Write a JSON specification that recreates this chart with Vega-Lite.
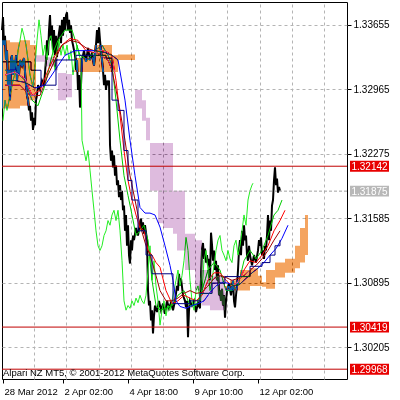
{
"$schema":"https://vega.github.io/schema/vega-lite/v6.json",
"width":345,"height":377,"autosize":{"type":"none"},
"padding":{"left":2,"top":2,"right":53,"bottom":21},
"background":"white",
"config":{"view":{"stroke":"#000","strokeWidth":1},
"axis":{"labelFont":"Liberation Sans","labelFontSize":10,"labelColor":"#000","tickColor":"#000","gridColor":"#B4B4B4","gridDash":[3,3],"domain":false},
"text":{"font":"Liberation Sans","fontSize":10}},
"resolve":{"axis":{"x":"independent"},"scale":{"color":"independent"}},
"datasets":{
"price":[{"x":2,"p":1.336},{"x":3,"p":1.3374},{"x":4,"p":1.3344},{"x":5,"p":1.3354},{"x":6,"p":1.3328},{"x":7,"p":1.3338},{"x":8,"p":1.3301},{"x":9,"p":1.3317},{"x":10,"p":1.3285},{"x":11,"p":1.3328},{"x":12,"p":1.3333},{"x":13,"p":1.3312},{"x":14,"p":1.3328},{"x":15,"p":1.3317},{"x":16,"p":1.3333},{"x":17,"p":1.3306},{"x":18,"p":1.3322},{"x":19,"p":1.3312},{"x":20,"p":1.3328},{"x":22,"p":1.3322},{"x":24,"p":1.333},{"x":26,"p":1.3301},{"x":27,"p":1.329},{"x":28,"p":1.3285},{"x":29,"p":1.3274},{"x":30,"p":1.3279},{"x":31,"p":1.3263},{"x":32,"p":1.3272},{"x":33,"p":1.3253},{"x":34,"p":1.3266},{"x":35,"p":1.3258},{"x":36,"p":1.3285},{"x":37,"p":1.329},{"x":38,"p":1.3301},{"x":40,"p":1.3296},{"x":42,"p":1.3306},{"x":44,"p":1.3301},{"x":46,"p":1.3328},{"x":47,"p":1.3349},{"x":48,"p":1.3333},{"x":49,"p":1.336},{"x":50,"p":1.3376},{"x":51,"p":1.3349},{"x":52,"p":1.3365},{"x":53,"p":1.3338},{"x":54,"p":1.336},{"x":55,"p":1.3333},{"x":56,"p":1.3354},{"x":57,"p":1.3331},{"x":58,"p":1.3349},{"x":60,"p":1.3365},{"x":61,"p":1.3346},{"x":62,"p":1.3371},{"x":63,"p":1.3354},{"x":64,"p":1.3374},{"x":65,"p":1.336},{"x":66,"p":1.3376},{"x":67,"p":1.3379},{"x":68,"p":1.336},{"x":69,"p":1.3371},{"x":70,"p":1.3357},{"x":71,"p":1.3365},{"x":72,"p":1.3349},{"x":73,"p":1.3344},{"x":75,"p":1.3333},{"x":76,"p":1.3317},{"x":77,"p":1.3328},{"x":78,"p":1.3296},{"x":79,"p":1.3312},{"x":80,"p":1.3277},{"x":81,"p":1.3301},{"x":82,"p":1.3328},{"x":84,"p":1.3338},{"x":86,"p":1.3326},{"x":88,"p":1.3341},{"x":90,"p":1.3328},{"x":92,"p":1.3336},{"x":94,"p":1.3322},{"x":96,"p":1.3344},{"x":97,"p":1.336},{"x":98,"p":1.3346},{"x":99,"p":1.3363},{"x":100,"p":1.3349},{"x":101,"p":1.3338},{"x":102,"p":1.3328},{"x":103,"p":1.3317},{"x":104,"p":1.3301},{"x":105,"p":1.3312},{"x":106,"p":1.3296},{"x":107,"p":1.3306},{"x":108,"p":1.3301},{"x":109,"p":1.3306},{"x":110,"p":1.3237},{"x":111,"p":1.322},{"x":112,"p":1.3231},{"x":113,"p":1.3213},{"x":114,"p":1.3226},{"x":115,"p":1.3204},{"x":116,"p":1.3215},{"x":117,"p":1.3194},{"x":118,"p":1.3199},{"x":119,"p":1.3181},{"x":120,"p":1.3194},{"x":121,"p":1.3178},{"x":122,"p":1.3188},{"x":123,"p":1.3167},{"x":124,"p":1.3172},{"x":125,"p":1.3145},{"x":126,"p":1.3162},{"x":127,"p":1.3129},{"x":128,"p":1.3151},{"x":129,"p":1.3119},{"x":130,"p":1.311},{"x":131,"p":1.3135},{"x":132,"p":1.3124},{"x":133,"p":1.314},{"x":134,"p":1.3135},{"x":136,"p":1.3148},{"x":138,"p":1.314},{"x":140,"p":1.3154},{"x":141,"p":1.3158},{"x":142,"p":1.3145},{"x":143,"p":1.3154},{"x":144,"p":1.3142},{"x":145,"p":1.3151},{"x":146,"p":1.3143},{"x":147,"p":1.3135},{"x":148,"p":1.3081},{"x":149,"p":1.3065},{"x":150,"p":1.307},{"x":151,"p":1.3049},{"x":152,"p":1.306},{"x":153,"p":1.3035},{"x":154,"p":1.3054},{"x":155,"p":1.3065},{"x":157,"p":1.3058},{"x":159,"p":1.307},{"x":161,"p":1.306},{"x":163,"p":1.3067},{"x":165,"p":1.3056},{"x":167,"p":1.307},{"x":169,"p":1.3062},{"x":171,"p":1.3068},{"x":173,"p":1.306},{"x":175,"p":1.307},{"x":177,"p":1.3086},{"x":178,"p":1.3081},{"x":179,"p":1.3099},{"x":180,"p":1.3086},{"x":181,"p":1.3094},{"x":183,"p":1.3076},{"x":185,"p":1.307},{"x":186,"p":1.3063},{"x":187,"p":1.307},{"x":188,"p":1.3031},{"x":189,"p":1.306},{"x":190,"p":1.307},{"x":192,"p":1.3065},{"x":194,"p":1.307},{"x":196,"p":1.3058},{"x":198,"p":1.3068},{"x":200,"p":1.3062},{"x":202,"p":1.3124},{"x":203,"p":1.3132},{"x":204,"p":1.3115},{"x":205,"p":1.3126},{"x":206,"p":1.3111},{"x":207,"p":1.3119},{"x":208,"p":1.3108},{"x":209,"p":1.3115},{"x":210,"p":1.3092},{"x":211,"p":1.3143},{"x":212,"p":1.313},{"x":213,"p":1.3113},{"x":214,"p":1.3124},{"x":215,"p":1.3103},{"x":216,"p":1.3113},{"x":217,"p":1.3092},{"x":218,"p":1.3108},{"x":219,"p":1.3076},{"x":220,"p":1.3081},{"x":221,"p":1.307},{"x":222,"p":1.3083},{"x":223,"p":1.3065},{"x":224,"p":1.3076},{"x":225,"p":1.3052},{"x":226,"p":1.307},{"x":227,"p":1.3081},{"x":229,"p":1.3089},{"x":231,"p":1.3076},{"x":233,"p":1.3092},{"x":234,"p":1.307},{"x":235,"p":1.3063},{"x":236,"p":1.3076},{"x":237,"p":1.3086},{"x":238,"p":1.3103},{"x":239,"p":1.3124},{"x":240,"p":1.3135},{"x":241,"p":1.3119},{"x":242,"p":1.3145},{"x":243,"p":1.3129},{"x":244,"p":1.3151},{"x":245,"p":1.3135},{"x":246,"p":1.314},{"x":247,"p":1.3119},{"x":248,"p":1.3113},{"x":249,"p":1.3129},{"x":250,"p":1.3119},{"x":252,"p":1.3108},{"x":254,"p":1.3119},{"x":256,"p":1.3111},{"x":258,"p":1.3124},{"x":259,"p":1.3135},{"x":260,"p":1.3129},{"x":261,"p":1.3138},{"x":262,"p":1.3119},{"x":263,"p":1.3124},{"x":264,"p":1.3115},{"x":265,"p":1.3129},{"x":266,"p":1.3124},{"x":267,"p":1.314},{"x":268,"p":1.3162},{"x":269,"p":1.3135},{"x":270,"p":1.3156},{"x":271,"p":1.3145},{"x":272,"p":1.3172},{"x":273,"p":1.3178},{"x":274,"p":1.3199},{"x":275,"p":1.3213},{"x":276,"p":1.3194},{"x":277,"p":1.3201},{"x":278,"p":1.3186},{"x":279,"p":1.3192},{"x":280,"p":1.3188}],
"chikou":[{"x":3,"p":1.3263},{"x":5,"p":1.3285},{"x":7,"p":1.3274},{"x":10,"p":1.329},{"x":13,"p":1.3306},{"x":16,"p":1.3317},{"x":18,"p":1.3338},{"x":20,"p":1.3349},{"x":22,"p":1.3362},{"x":24,"p":1.3354},{"x":26,"p":1.3344},{"x":28,"p":1.3328},{"x":30,"p":1.3312},{"x":33,"p":1.3299},{"x":35,"p":1.3322},{"x":37,"p":1.3349},{"x":39,"p":1.3371},{"x":41,"p":1.3354},{"x":43,"p":1.3333},{"x":45,"p":1.3344},{"x":47,"p":1.3328},{"x":49,"p":1.3349},{"x":51,"p":1.3354},{"x":53,"p":1.3333},{"x":55,"p":1.3317},{"x":57,"p":1.3338},{"x":59,"p":1.3349},{"x":61,"p":1.3333},{"x":63,"p":1.3344},{"x":65,"p":1.3333},{"x":67,"p":1.3344},{"x":69,"p":1.3328},{"x":71,"p":1.3338},{"x":73,"p":1.3312},{"x":75,"p":1.3328},{"x":77,"p":1.3344},{"x":79,"p":1.3333},{"x":81,"p":1.3328},{"x":82,"p":1.3242},{"x":84,"p":1.3231},{"x":86,"p":1.322},{"x":88,"p":1.3231},{"x":90,"p":1.321},{"x":92,"p":1.3188},{"x":94,"p":1.3167},{"x":96,"p":1.3145},{"x":98,"p":1.3129},{"x":100,"p":1.3124},{"x":102,"p":1.3129},{"x":104,"p":1.314},{"x":106,"p":1.3145},{"x":108,"p":1.3156},{"x":110,"p":1.3151},{"x":112,"p":1.3162},{"x":114,"p":1.3167},{"x":116,"p":1.3156},{"x":118,"p":1.3167},{"x":120,"p":1.3145},{"x":122,"p":1.3113},{"x":124,"p":1.307},{"x":126,"p":1.306},{"x":128,"p":1.3065},{"x":130,"p":1.3062},{"x":132,"p":1.307},{"x":134,"p":1.3065},{"x":136,"p":1.3073},{"x":138,"p":1.3068},{"x":140,"p":1.3076},{"x":142,"p":1.307},{"x":144,"p":1.3067},{"x":146,"p":1.3076},{"x":148,"p":1.3103},{"x":150,"p":1.3129},{"x":152,"p":1.3092},{"x":154,"p":1.3113},{"x":156,"p":1.3086},{"x":158,"p":1.307},{"x":160,"p":1.3044},{"x":162,"p":1.306},{"x":164,"p":1.307},{"x":166,"p":1.3054},{"x":168,"p":1.3065},{"x":170,"p":1.306},{"x":172,"p":1.307},{"x":174,"p":1.3081},{"x":176,"p":1.3092},{"x":178,"p":1.3103},{"x":180,"p":1.3086},{"x":182,"p":1.3097},{"x":184,"p":1.3113},{"x":186,"p":1.3138},{"x":188,"p":1.3124},{"x":190,"p":1.3092},{"x":192,"p":1.307},{"x":194,"p":1.306},{"x":196,"p":1.3081},{"x":198,"p":1.3086},{"x":200,"p":1.307},{"x":202,"p":1.3081},{"x":204,"p":1.3113},{"x":206,"p":1.3124},{"x":208,"p":1.3103},{"x":210,"p":1.3081},{"x":212,"p":1.3092},{"x":214,"p":1.3108},{"x":216,"p":1.3124},{"x":218,"p":1.3135},{"x":220,"p":1.314},{"x":222,"p":1.3124},{"x":224,"p":1.3119},{"x":226,"p":1.3113},{"x":228,"p":1.3124},{"x":230,"p":1.3115},{"x":232,"p":1.3111},{"x":234,"p":1.3129},{"x":236,"p":1.3135},{"x":238,"p":1.3119},{"x":240,"p":1.3129},{"x":242,"p":1.3145},{"x":244,"p":1.3162},{"x":246,"p":1.3151},{"x":248,"p":1.3178},{"x":250,"p":1.3188},{"x":252,"p":1.3194},{"x":253,"p":1.3196}],
"ma":[
{"s":"lips","x":5,"p":1.3317},{"s":"lips","x":15,"p":1.3317},{"s":"lips","x":25,"p":1.3306},{"s":"lips","x":32,"p":1.3285},{"s":"lips","x":38,"p":1.3279},{"s":"lips","x":45,"p":1.3301},{"s":"lips","x":52,"p":1.3333},{"s":"lips","x":58,"p":1.3349},{"s":"lips","x":65,"p":1.336},{"s":"lips","x":72,"p":1.336},{"s":"lips","x":80,"p":1.3333},{"s":"lips","x":88,"p":1.3328},{"s":"lips","x":95,"p":1.3338},{"s":"lips","x":102,"p":1.3344},{"s":"lips","x":108,"p":1.3333},{"s":"lips","x":112,"p":1.3322},{"s":"lips","x":116,"p":1.3285},{"s":"lips","x":120,"p":1.3242},{"s":"lips","x":124,"p":1.3204},{"s":"lips","x":128,"p":1.3183},{"s":"lips","x":132,"p":1.3162},{"s":"lips","x":136,"p":1.314},{"s":"lips","x":140,"p":1.3145},{"s":"lips","x":144,"p":1.3151},{"s":"lips","x":148,"p":1.3135},{"s":"lips","x":152,"p":1.3092},{"s":"lips","x":156,"p":1.3065},{"s":"lips","x":160,"p":1.306},{"s":"lips","x":166,"p":1.3062},{"s":"lips","x":172,"p":1.3065},{"s":"lips","x":178,"p":1.3076},{"s":"lips","x":184,"p":1.3081},{"s":"lips","x":190,"p":1.3065},{"s":"lips","x":196,"p":1.3065},{"s":"lips","x":202,"p":1.3081},{"s":"lips","x":208,"p":1.3103},{"s":"lips","x":214,"p":1.3111},{"s":"lips","x":220,"p":1.3103},{"s":"lips","x":226,"p":1.3081},{"s":"lips","x":232,"p":1.3081},{"s":"lips","x":238,"p":1.3086},{"s":"lips","x":244,"p":1.3113},{"s":"lips","x":250,"p":1.3124},{"s":"lips","x":256,"p":1.3115},{"s":"lips","x":262,"p":1.3124},{"s":"lips","x":268,"p":1.314},{"s":"lips","x":274,"p":1.3162},{"s":"lips","x":278,"p":1.3167},{"s":"lips","x":282,"p":1.3178},
{"s":"teeth","x":5,"p":1.3312},{"s":"teeth","x":15,"p":1.3315},{"s":"teeth","x":25,"p":1.3308},{"s":"teeth","x":32,"p":1.329},{"s":"teeth","x":40,"p":1.3296},{"s":"teeth","x":48,"p":1.3317},{"s":"teeth","x":55,"p":1.3333},{"s":"teeth","x":62,"p":1.3344},{"s":"teeth","x":70,"p":1.3351},{"s":"teeth","x":78,"p":1.3349},{"s":"teeth","x":86,"p":1.3338},{"s":"teeth","x":94,"p":1.3336},{"s":"teeth","x":102,"p":1.3338},{"s":"teeth","x":108,"p":1.3336},{"s":"teeth","x":112,"p":1.3333},{"s":"teeth","x":116,"p":1.3306},{"s":"teeth","x":120,"p":1.3269},{"s":"teeth","x":124,"p":1.3231},{"s":"teeth","x":128,"p":1.3199},{"s":"teeth","x":132,"p":1.3178},{"s":"teeth","x":136,"p":1.3162},{"s":"teeth","x":140,"p":1.3148},{"s":"teeth","x":144,"p":1.3145},{"s":"teeth","x":148,"p":1.3124},{"s":"teeth","x":152,"p":1.3119},{"s":"teeth","x":156,"p":1.3111},{"s":"teeth","x":160,"p":1.3106},{"s":"teeth","x":166,"p":1.3081},{"s":"teeth","x":172,"p":1.3067},{"s":"teeth","x":178,"p":1.307},{"s":"teeth","x":184,"p":1.3076},{"s":"teeth","x":190,"p":1.3073},{"s":"teeth","x":196,"p":1.307},{"s":"teeth","x":202,"p":1.3076},{"s":"teeth","x":208,"p":1.3092},{"s":"teeth","x":214,"p":1.31},{"s":"teeth","x":220,"p":1.31},{"s":"teeth","x":226,"p":1.3092},{"s":"teeth","x":232,"p":1.3086},{"s":"teeth","x":238,"p":1.309},{"s":"teeth","x":244,"p":1.3103},{"s":"teeth","x":250,"p":1.3113},{"s":"teeth","x":256,"p":1.3111},{"s":"teeth","x":262,"p":1.3119},{"s":"teeth","x":268,"p":1.3129},{"s":"teeth","x":274,"p":1.3145},{"s":"teeth","x":280,"p":1.3156},{"s":"teeth","x":285,"p":1.3167},
{"s":"tenkan","x":5,"p":1.3301},{"s":"tenkan","x":20,"p":1.3301},{"s":"tenkan","x":30,"p":1.329},{"s":"tenkan","x":40,"p":1.329},{"s":"tenkan","x":48,"p":1.3312},{"s":"tenkan","x":55,"p":1.3328},{"s":"tenkan","x":62,"p":1.3344},{"s":"tenkan","x":70,"p":1.3349},{"s":"tenkan","x":78,"p":1.3347},{"s":"tenkan","x":86,"p":1.3341},{"s":"tenkan","x":94,"p":1.3338},{"s":"tenkan","x":100,"p":1.3333},{"s":"tenkan","x":108,"p":1.3328},{"s":"tenkan","x":112,"p":1.3317},{"s":"tenkan","x":116,"p":1.3296},{"s":"tenkan","x":120,"p":1.3274},{"s":"tenkan","x":125,"p":1.3242},{"s":"tenkan","x":130,"p":1.3204},{"s":"tenkan","x":135,"p":1.3178},{"s":"tenkan","x":140,"p":1.3151},{"s":"tenkan","x":146,"p":1.3129},{"s":"tenkan","x":150,"p":1.3119},{"s":"tenkan","x":156,"p":1.3097},{"s":"tenkan","x":160,"p":1.3081},{"s":"tenkan","x":166,"p":1.307},{"s":"tenkan","x":172,"p":1.307},{"s":"tenkan","x":178,"p":1.3073},{"s":"tenkan","x":184,"p":1.3078},{"s":"tenkan","x":190,"p":1.3081},{"s":"tenkan","x":196,"p":1.3078},{"s":"tenkan","x":202,"p":1.3079},{"s":"tenkan","x":208,"p":1.3086},{"s":"tenkan","x":214,"p":1.3094},{"s":"tenkan","x":220,"p":1.3097},{"s":"tenkan","x":226,"p":1.3095},{"s":"tenkan","x":232,"p":1.3092},{"s":"tenkan","x":238,"p":1.3094},{"s":"tenkan","x":244,"p":1.3097},{"s":"tenkan","x":250,"p":1.3103},{"s":"tenkan","x":256,"p":1.3108},{"s":"tenkan","x":262,"p":1.3115},{"s":"tenkan","x":268,"p":1.3124},{"s":"tenkan","x":274,"p":1.3135},{"s":"tenkan","x":280,"p":1.3145},
{"s":"jaw","x":5,"p":1.3306},{"s":"jaw","x":15,"p":1.3306},{"s":"jaw","x":25,"p":1.3304},{"s":"jaw","x":35,"p":1.3298},{"s":"jaw","x":45,"p":1.3301},{"s":"jaw","x":55,"p":1.3317},{"s":"jaw","x":65,"p":1.3333},{"s":"jaw","x":75,"p":1.3338},{"s":"jaw","x":85,"p":1.3338},{"s":"jaw","x":95,"p":1.3338},{"s":"jaw","x":105,"p":1.3336},{"s":"jaw","x":112,"p":1.3333},{"s":"jaw","x":118,"p":1.3328},{"s":"jaw","x":125,"p":1.3285},{"s":"jaw","x":130,"p":1.3242},{"s":"jaw","x":135,"p":1.3204},{"s":"jaw","x":140,"p":1.317},{"s":"jaw","x":145,"p":1.3164},{"s":"jaw","x":150,"p":1.3164},{"s":"jaw","x":155,"p":1.3162},{"s":"jaw","x":160,"p":1.3149},{"s":"jaw","x":165,"p":1.3129},{"s":"jaw","x":170,"p":1.3108},{"s":"jaw","x":173,"p":1.3092},{"s":"jaw","x":176,"p":1.307},{"s":"jaw","x":180,"p":1.3064},{"s":"jaw","x":186,"p":1.3062},{"s":"jaw","x":192,"p":1.3065},{"s":"jaw","x":198,"p":1.3067},{"s":"jaw","x":204,"p":1.307},{"s":"jaw","x":210,"p":1.3079},{"s":"jaw","x":216,"p":1.3086},{"s":"jaw","x":222,"p":1.309},{"s":"jaw","x":228,"p":1.3089},{"s":"jaw","x":234,"p":1.3086},{"s":"jaw","x":240,"p":1.3088},{"s":"jaw","x":246,"p":1.3094},{"s":"jaw","x":252,"p":1.31},{"s":"jaw","x":258,"p":1.3105},{"s":"jaw","x":264,"p":1.3111},{"s":"jaw","x":270,"p":1.3119},{"s":"jaw","x":276,"p":1.3126},{"s":"jaw","x":282,"p":1.3137},{"s":"jaw","x":288,"p":1.3151}],
"kijun":[{"x":2,"p":1.3326},{"x":31,"p":1.3317},{"x":41,"p":1.3301},{"x":56,"p":1.3328},{"x":76,"p":1.3333},{"x":106,"p":1.333},{"x":112,"p":1.3285},{"x":118,"p":1.3274},{"x":124,"p":1.3231},{"x":128,"p":1.3199},{"x":132,"p":1.3178},{"x":138,"p":1.3145},{"x":146,"p":1.3119},{"x":152,"p":1.3099},{"x":173,"p":1.3067},{"x":190,"p":1.307},{"x":200,"p":1.3078},{"x":212,"p":1.3089},{"x":225,"p":1.3096},{"x":250,"p":1.3107},{"x":262,"p":1.3111},{"x":270,"p":1.3119},{"x":275,"p":1.3129},{"x":280,"p":1.3135}],
"cloud":[
{"seg":1,"kind":"up","x":2,"a":1.3349,"b":1.3276},{"seg":1,"kind":"up","x":10,"a":1.3347,"b":1.3276},{"seg":1,"kind":"up","x":20,"a":1.3349,"b":1.3279},{"seg":1,"kind":"up","x":30,"a":1.3344,"b":1.3285},{"seg":1,"kind":"up","x":36,"a":1.3333,"b":1.3326},
{"seg":2,"kind":"down","x":36,"a":1.3333,"b":1.3326},{"seg":2,"kind":"down","x":45,"a":1.3331,"b":1.3321},{"seg":2,"kind":"down","x":56,"a":1.333,"b":1.3317},{"seg":2,"kind":"down","x":58,"a":1.3314,"b":1.3285},{"seg":2,"kind":"down","x":66,"a":1.3313,"b":1.3288},{"seg":2,"kind":"down","x":72,"a":1.3317,"b":1.3315},
{"seg":3,"kind":"up","x":72,"a":1.3317,"b":1.3315},{"seg":3,"kind":"up","x":76,"a":1.333,"b":1.3315},{"seg":3,"kind":"up","x":92,"a":1.3331,"b":1.3315},{"seg":3,"kind":"up","x":94,"a":1.3344,"b":1.3315},{"seg":3,"kind":"up","x":110,"a":1.3344,"b":1.3315},{"seg":3,"kind":"up","x":112,"a":1.3333,"b":1.3315},{"seg":3,"kind":"up","x":118,"a":1.3334,"b":1.3328},{"seg":3,"kind":"up","x":135,"a":1.3333,"b":1.333},
{"seg":4,"kind":"down","x":135,"a":1.3296,"b":1.3276},{"seg":4,"kind":"down","x":142,"a":1.3285,"b":1.3263},{"seg":4,"kind":"down","x":146,"a":1.3266,"b":1.3242},{"seg":4,"kind":"down","x":150,"a":1.3239,"b":1.3188},{"seg":4,"kind":"down","x":158,"a":1.3239,"b":1.3153},{"seg":4,"kind":"down","x":163,"a":1.3239,"b":1.3148},{"seg":4,"kind":"down","x":173,"a":1.3188,"b":1.3142},{"seg":4,"kind":"down","x":177,"a":1.3188,"b":1.3124},{"seg":4,"kind":"down","x":185,"a":1.3142,"b":1.3103},{"seg":4,"kind":"down","x":195,"a":1.3135,"b":1.3081},{"seg":4,"kind":"down","x":202,"a":1.3103,"b":1.3065},{"seg":4,"kind":"down","x":210,"a":1.3097,"b":1.306},{"seg":4,"kind":"down","x":225,"a":1.3086,"b":1.307},
{"seg":5,"kind":"up","x":225,"a":1.3086,"b":1.3081},{"seg":5,"kind":"up","x":230,"a":1.3092,"b":1.3081},{"seg":5,"kind":"up","x":240,"a":1.3103,"b":1.3081},{"seg":5,"kind":"up","x":250,"a":1.3105,"b":1.3086},{"seg":5,"kind":"up","x":258,"a":1.3097,"b":1.3086},{"seg":5,"kind":"up","x":262,"a":1.309,"b":1.3085},{"seg":5,"kind":"up","x":266,"a":1.3103,"b":1.3083},{"seg":5,"kind":"up","x":275,"a":1.3111,"b":1.3095},{"seg":5,"kind":"up","x":285,"a":1.3115,"b":1.31},{"seg":5,"kind":"up","x":295,"a":1.3129,"b":1.3105},{"seg":5,"kind":"up","x":300,"a":1.3148,"b":1.3111},{"seg":5,"kind":"up","x":305,"a":1.3162,"b":1.3119},{"seg":5,"kind":"up","x":308,"a":1.3169,"b":1.313}],
"levels":[{"p":1.32142,"kind":"line"},{"p":1.30419,"kind":"line"},{"p":1.29968,"kind":"line"},{"p":1.31875,"kind":"bid"}]
},
"layer":[
{"data":{"name":"price"},"mark":{"type":"line","color":"#000","strokeWidth":2},
 "encoding":{
  "x":{"field":"x","type":"quantitative","title":null,"scale":{"domain":[2,347],"nice":false,"zero":false},
   "axis":{"orient":"bottom","values":[3,63,128,193,258],"labelExpr":"datum.value==3?'28 Mar 2012':datum.value==63?'2 Apr 02:00':datum.value==128?'4 Apr 18:00':datum.value==193?'9 Apr 10:00':'12 Apr 02:00'","grid":false,"tickSize":4,"labelAlign":"left","labelPadding":3,"labelFlush":false,"labelOverlap":false,"labelOffset":1,"labelFontSize":9.5}},
  "y":{"field":"p","type":"quantitative","title":null,"scale":{"domain":[1.29863,1.33901],"nice":false,"zero":false},
   "axis":{"orient":"right","values":[1.30205,1.3055,1.30895,1.3124,1.31585,1.3193,1.32275,1.3262,1.32965,1.3331,1.33655],"format":".5f","grid":true,"tickSize":4,"labelPadding":2}}}},
{"data":{"name":"chikou"},"mark":{"type":"line","color":"#22EE22","strokeWidth":1},
 "encoding":{
  "x":{"field":"x","type":"quantitative","title":null,"axis":{"orient":"top","values":[34.2,66.4,98.6,130.8,163,195.2,227.4,259.6,291.8,324],"grid":true,"labels":false,"ticks":false,"domain":false}},
  "y":{"field":"p","type":"quantitative","title":null}}},
{"data":{"name":"ma"},"mark":{"type":"line","strokeWidth":1},
 "encoding":{
  "x":{"field":"x","type":"quantitative","title":null,"axis":null},
  "y":{"field":"p","type":"quantitative","title":null},
  "color":{"field":"s","type":"nominal","legend":null,"scale":{"domain":["lips","teeth","tenkan","jaw"],"range":["#00CC00","#FF0000","#A00000","#0000FF"]}}}},
{"data":{"name":"kijun"},"mark":{"type":"line","color":"#000080","strokeWidth":1,"interpolate":"step-after"},
 "encoding":{
  "x":{"field":"x","type":"quantitative","title":null,"axis":null},
  "y":{"field":"p","type":"quantitative","title":null}}},
{"data":{"name":"cloud"},"mark":{"type":"area","blend":"difference","interpolate":"step-after"},
 "encoding":{
  "x":{"field":"x","type":"quantitative","title":null,"axis":null},
  "y":{"field":"a","type":"quantitative","title":null},
  "y2":{"field":"b"},
  "detail":{"field":"seg","type":"nominal"},
  "color":{"field":"kind","type":"nominal","legend":null,"scale":{"domain":["up","down"],"range":["#0B5B9F","#214421"]}}}},
{"data":{"name":"levels"},"transform":[{"filter":"datum.kind=='line'"}],"mark":{"type":"rule","color":"#C00000","strokeWidth":1},
 "encoding":{"y":{"field":"p","type":"quantitative","title":null}}},
{"data":{"name":"levels"},"transform":[{"filter":"datum.kind=='bid'"}],"mark":{"type":"rule","color":"#A0A0A0","strokeWidth":1,"strokeDash":[3,2]},
 "encoding":{"y":{"field":"p","type":"quantitative","title":null}}},
{"data":{"name":"levels"},"mark":{"type":"point","filled":true,"opacity":1,"strokeWidth":0,"shape":"M-1,-0.28L1,-0.28L1,0.28L-1,0.28Z","size":1521},
 "encoding":{
  "x":{"datum":369.5,"type":"quantitative","axis":null},
  "y":{"field":"p","type":"quantitative","title":null},
  "color":{"field":"kind","type":"nominal","legend":null,"scale":{"domain":["line","bid"],"range":["#E80000","#B8B8B8"]}}}},
{"data":{"name":"levels"},"mark":{"type":"text","align":"center","baseline":"middle","fontSize":10,"dy":0.5},
 "encoding":{
  "x":{"datum":369.5,"type":"quantitative","axis":null},
  "y":{"field":"p","type":"quantitative","title":null},
  "text":{"field":"p","type":"quantitative","format":".5f"},
  "color":{"value":"#FFFFFF"}}},
{"data":{"values":[{}]},"mark":{"type":"text","align":"left","baseline":"middle","fontSize":9.5,"color":"#000"},
 "encoding":{
  "x":{"datum":3,"type":"quantitative","axis":null},
  "y":{"datum":1.2993,"type":"quantitative"},
  "text":{"value":"Alpari NZ MT5, © 2001-2012 MetaQuotes Software Corp."}}}
]
}
